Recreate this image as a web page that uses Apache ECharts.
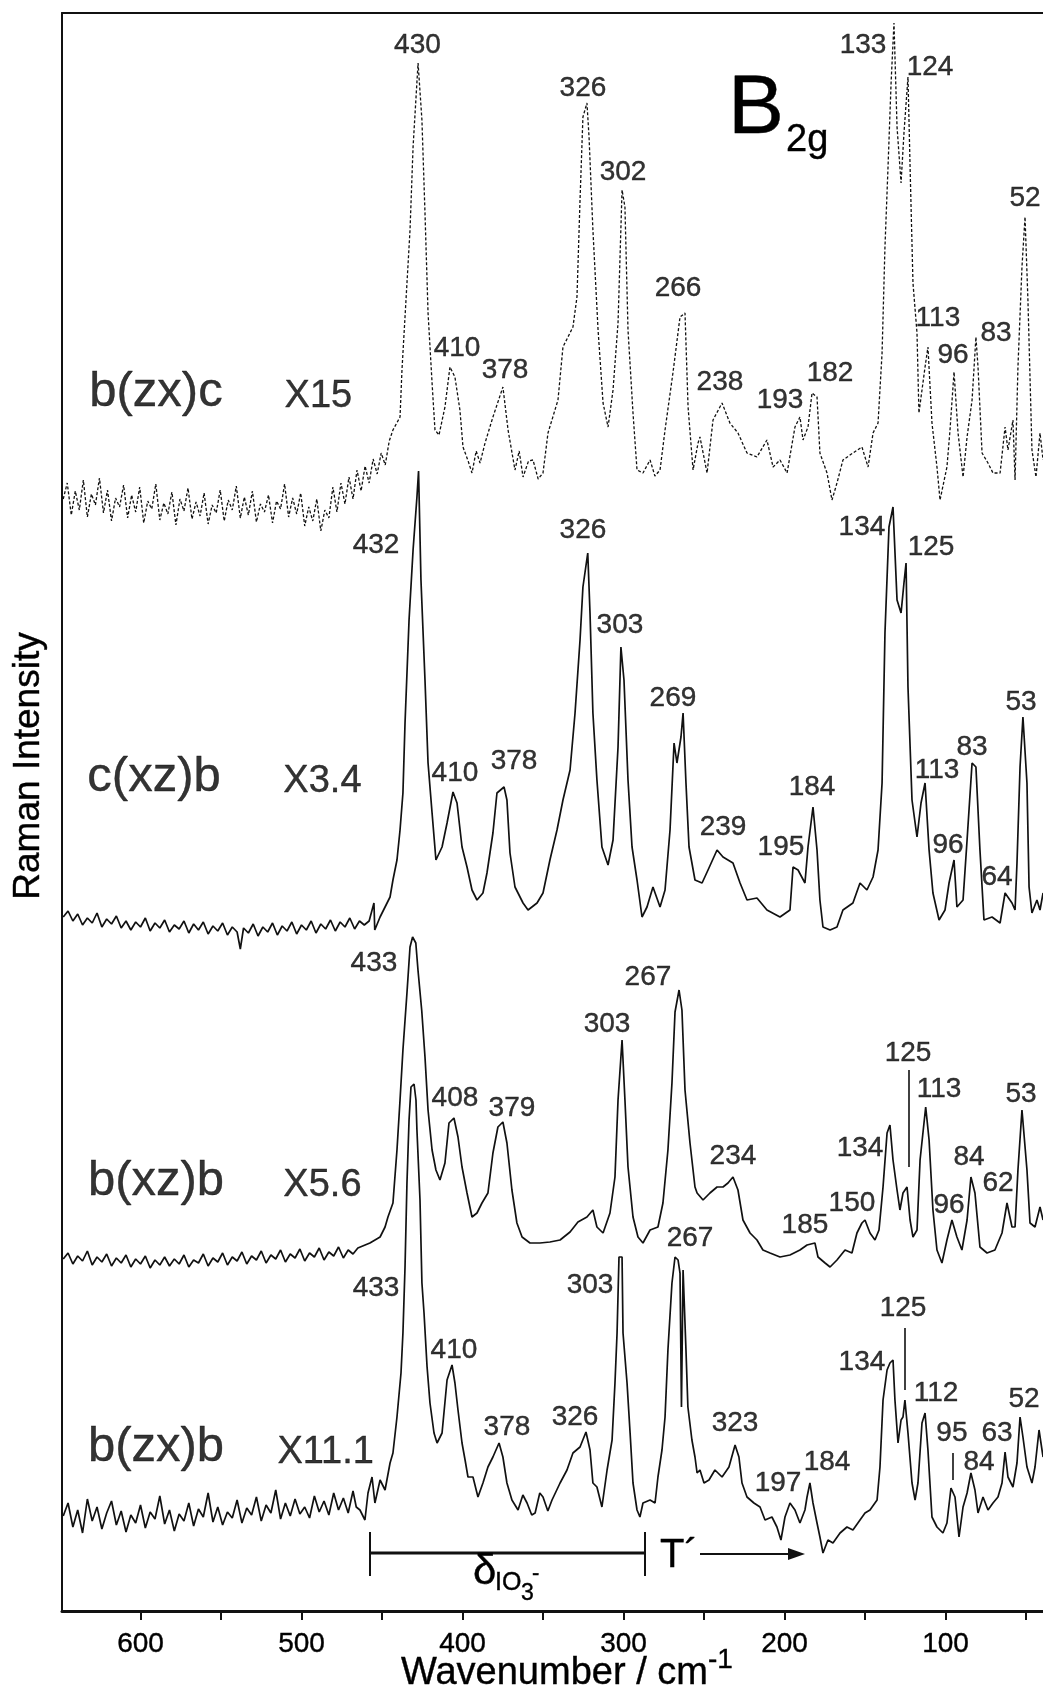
<!DOCTYPE html>
<html>
<head>
<meta charset="utf-8">
<script src="https://cdn.jsdelivr.net/npm/echarts@6.0.0/dist/echarts.min.js"></script>
<style>
html, body { margin: 0; padding: 0; background: #fff; }
#chart { width: 1043px; height: 1691px; }
</style>
</head>
<body>
<div id="chart"></div>
<script>
// spectra: [wavenumber (cm-1), intensity (arb. units, offset traces)]
const bzxc = [[648,1112],[645.5,1128],[643,1096],[640.5,1120],[638,1101],[635.5,1131],[633,1094],[630.5,1117],[628,1106],[625.5,1133],[623,1098],[620.5,1121],[618,1090],[615.5,1113],[613,1104],[610.5,1126],[608,1093],[605.5,1116],[603,1099],[600.5,1124],[598,1088],[595.5,1110],[593,1102],[590.5,1127],[588,1091],[585.5,1108],[583,1097],[580.5,1119],[578,1086],[575.5,1112],[573,1100],[570.5,1123],[568,1092],[565.5,1109],[563,1095],[560.5,1118],[558,1087],[555.5,1106],[553,1098],[550.5,1121],[548,1090],[545.5,1111],[543,1101],[540.5,1125],[538,1093],[535.5,1114],[533,1096],[530.5,1120],[528,1089],[525.5,1107],[523,1099],[520.5,1116],[518,1088],[515.5,1110],[513,1102],[510.5,1127],[508,1094],[505.5,1113],[503,1097],[500.5,1118],[498,1085],[495.5,1104],[493,1090],[490.5,1112],[488,1080],[485.5,1101],[483,1093],[480.5,1124],[478,1099],[475.5,1128],[473,1107],[470.5,1134],[468,1112],[465.5,1141],[463,1120],[460.5,1145],[458,1128],[455.5,1152],[453,1137],[450.5,1158],[448,1146],[445.5,1170],[443.2,1181],
[438.8,1194],[437.6,1241],[432.6,1381],[430.7,1464],[427.6,1548],[425.2,1491],[423.3,1398],[421.4,1298],[418.9,1228],[417.1,1181],[414.6,1176],[410.9,1204],[407.8,1244],[404.7,1234],[401.6,1201],[399.7,1164],[396.5,1150],[394.1,1138],[391.5,1160],[389.1,1148],[386.0,1168],[381.1,1194],[374.9,1224],[371.7,1181],[367.4,1141],[364.8,1160],[362.4,1134],[359.0,1150],[356.2,1151],[353.0,1132],[350.0,1138],[346.9,1178],[340.7,1211],[337.6,1264],[331.4,1284],[328.9,1314],[327.0,1411],[325.2,1494],[322.7,1508],[321.4,1474],[319.0,1381],[315.8,1281],[312.7,1208],[309.6,1184],[306.5,1221],[303.4,1288],[300.9,1421],[299.1,1404],[297.2,1281],[294.1,1198],[291.6,1141],[287.9,1138],[283.5,1151],[280.5,1135],[277.3,1141],[274.2,1181],[269.3,1238],[264.9,1294],[261.8,1298],[259.9,1204],[256.8,1141],[253.7,1168],[252.5,1174],[248.1,1138],[244.4,1191],[238.8,1208],[233.9,1188],[228.9,1178],[223.3,1158],[217.1,1154],[210.9,1171],[207.1,1144],[202.8,1151],[198.4,1138],[193.5,1184],[190.4,1194],[188.5,1171],[185.4,1184],[182.9,1218],[179.8,1214],[178.0,1158],[173.6,1138],[170.5,1111],[167.4,1128],[163.7,1151],[157.5,1158],[151.9,1164],[148.1,1144],[145.0,1178],[141.9,1188],[139.4,1258],[137.6,1364],[135.7,1444],[133.8,1528],[132.0,1588],[130.1,1484],[127.6,1428],[125.8,1478],[123.3,1534],[122.0,1444],[120.2,1328],[117.7,1278],[116.5,1198],[112.7,1244],[110.9,1264],[108.4,1188],[105.3,1144],[103.4,1111],[99.1,1144],[97.2,1181],[94.7,1239],[92.2,1178],[89.1,1134],[86.6,1174],[83.5,1211],[81.1,1274],[79.8,1244],[77.3,1158],[73.6,1148],[70.5,1138],[66.1,1138],[63.0,1184],[61.2,1161],[58.1,1191],[56.8,1131],[55.0,1244],[52.5,1344],[50.6,1394],[48.8,1311],[46.3,1161],[43.8,1134],[41.3,1178],[39.4,1151]];

const cxzb = [[648,694],[645,700],[642,690],[639,697],[636,686],[633,693],[630,688],[627,698],[624,684],[621,692],[618,687],[615,695],[612,683],[609,690],[606,681],[603,689],[600,684],[597,693],[594,680],[591,688],[588,683],[585,691],[582,679],[579,686],[576,682],[573,690],[570,678],[567,687],[564,681],[561,689],[558,677],[555,685],[552,680],[549,688],[546,676],[543,684],[540,679],[538,662],[536,683],[533,678],[530,687],[527,675],[524,684],[521,679],[518,688],[515,676],[512,685],[509,680],[506,689],[503,677],[500,686],[497,681],[494,690],[491,678],[488,687],[485,682],[482,691],[479,680],[476,689],[473,684],[470,693],[467,682],[464,690],[461,686],[458,690],[455.0,708],[454.5,681],[451.2,694],[445.0,714],[443.2,731],[440.7,751],[438.8,781],[437.0,818],[435.7,888],[433.2,991],[430.7,1061],[428.3,1114],[427.3,1140],[425.8,1031],[423.3,931],[421.4,848],[418.9,798],[416.5,751],[412.7,764],[409.6,788],[405.9,819],[403.4,808],[400.3,764],[397.2,744],[394.1,721],[391.0,711],[387.3,718],[384.8,738],[381.1,778],[378.6,818],[374.2,824],[372.4,811],[370.5,758],[367.4,724],[362.4,708],[359.3,701],[353.7,708],[350.0,718],[345.7,751],[341.3,781],[337.6,811],[333.2,841],[330.1,898],[327.0,971],[325.2,1024],[322.2,1058],[320.8,998],[319.0,898],[316.5,831],[313.4,764],[309.6,746],[306.5,771],[303.4,864],[301.6,964],[299.7,931],[297.2,831],[294.7,764],[291.6,731],[288.5,694],[285.4,704],[281.7,724],[277.3,704],[274.2,721],[271.1,781],[268.6,868],[266.8,848],[264.3,874],[263.0,898],[261.2,828],[259.3,764],[255.6,731],[251.2,728],[247.5,741],[241.9,761],[238.2,754],[232.0,748],[227.6,728],[223.3,711],[217.1,713],[210.9,701],[202.8,694],[196.6,701],[194.7,744],[191.6,741],[187.3,728],[185.4,764],[182.3,804],[179.8,761],[178.0,711],[176.1,684],[171.7,681],[167.4,684],[163.7,701],[157.5,708],[153.1,728],[148.8,721],[145.0,734],[141.9,761],[139.4,828],[137.6,978],[135.1,1084],[132.6,1104],[130.1,1011],[127.6,998],[125.8,1028],[124.5,1048],[123.3,924],[120.8,811],[117.7,774],[115.2,808],[112.7,828],[110.2,761],[107.8,718],[104.0,691],[100.3,701],[97.8,728],[94.7,751],[92.9,704],[89.1,711],[86.6,771],[83.5,848],[81.1,844],[78.6,761],[76.1,691],[71.1,694],[66.1,688],[63.0,718],[58.7,708],[56.8,701],[55.6,748],[53.7,844],[51.9,894],[49.4,828],[48.1,724],[46.3,698],[43.2,711],[41.3,701],[39.4,718]];

const bxzb = [[648,352],[645,358],[642,347],[639,355],[636,350],[633,360],[630,346],[627,354],[624,349],[621,357],[618,345],[615,353],[612,348],[609,356],[606,344],[603,352],[600,347],[597,355],[594,343],[591,351],[588,346],[585,354],[582,345],[579,352],[576,347],[573,356],[570,344],[567,351],[564,348],[561,357],[558,345],[555,353],[552,349],[549,358],[546,346],[543,354],[540,350],[537,359],[534,347],[531,355],[528,351],[525,360],[522,348],[519,356],[516,352],[513,361],[510,349],[507,357],[504,353],[501,362],[498,350],[495,358],[492,354],[489,363],[486,351],[483,359],[480,355],[477,364],[474,353],[471,361],[468,357],[465,363],
[457.5,368],[451.2,374],[448.1,384],[446.3,394],[443.2,408],[440.7,461],[438.8,511],[437.0,561],[434.5,618],[432.6,664],[431.0,674],[430.1,675],[429.0,668],[427.6,640],[425.3,600],[423.3,554],[421.4,501],[418.9,461],[416.5,441],[414.0,431],[410.9,448],[408.4,488],[405.3,493],[402.8,474],[400.3,444],[397.2,418],[394.1,394],[391.0,398],[387.9,408],[384.2,418],[381.1,458],[378.0,484],[374.9,489],[372.4,468],[369.3,421],[366.2,388],[363.0,374],[358.1,368],[351.9,368],[345.7,369],[339.4,371],[333.2,379],[328.3,389],[322.7,394],[319.0,401],[316.5,384],[312.7,378],[308.4,398],[305.3,434],[303.4,511],[300.9,571],[299.1,511],[297.2,444],[294.1,394],[291.0,374],[287.9,368],[283.5,381],[278.6,384],[275.5,408],[272.4,461],[269.9,528],[268.0,599],[265.5,621],[263.7,601],[261.8,521],[258.7,468],[255.6,424],[254.3,418],[250.6,411],[246.3,418],[241.9,424],[238.2,424],[235.1,428],[232.0,434],[228.9,421],[225.8,391],[221.4,378],[217.1,371],[213.4,361],[209.0,358],[202.8,354],[196.6,356],[190.4,361],[186.0,366],[181.1,368],[179.2,354],[174.8,348],[171.7,344],[167.4,351],[162.4,361],[158.1,358],[155.0,378],[151.9,388],[150.0,391],[146.9,378],[143.8,371],[141.3,381],[138.8,424],[136.3,478],[134.5,486],[132.6,451],[130.1,421],[128.3,401],[126.4,418],[123.9,424],[122.0,391],[120.2,374],[117.7,381],[115.8,451],[112.3,504],[110.2,471],[107.8,401],[105.3,361],[102.2,348],[99.1,371],[96.0,391],[92.9,374],[89.8,361],[86.6,391],[84.2,434],[81.7,418],[78.6,364],[74.2,358],[69.3,361],[64.9,378],[61.8,408],[58.7,384],[56.8,384],[55.0,441],[52.5,501],[49.4,441],[47.5,388],[44.4,384],[41.3,404],[39.4,391]];

const bzxb = [[648,95],[645,108],[642,84],[639,101],[636,78],[633,112],[630,90],[627,104],[624,82],[621,98],[618,110],[615,86],[612,100],[609,79],[606,96],[603,88],[600,106],[597,83],[594,99],[591,92],[588,115],[585,87],[582,101],[579,80],[576,97],[573,90],[570,108],[567,85],[564,102],[561,94],[558,118],[555,89],[552,104],[549,86],[546,99],[543,93],[540,111],[537,88],[534,103],[531,96],[528,114],[525,90],[522,106],[519,98],[516,121],[513,92],[510,108],[507,95],[504,112],[501,97],[498,104],[495,93],[492,115],[489,99],[486,110],[483,96],[480,118],[477,101],[474,113],[471,98],[468,120],[466,104],
[463.7,101],[460.6,91],[458.7,118],[456.2,134],[454.4,108],[451.2,131],[448.1,121],[445.0,148],[443.2,158],[440.7,194],[438.2,238],[437.0,278],[435.7,344],[434.5,428],[433.2,491],[432.0,524],[430.1,527],[428.9,511],[428.3,481],[426.4,411],[425.2,328],[423.9,298],[422.0,244],[420.2,208],[417.7,178],[415.8,168],[412.7,178],[409.6,231],[406.5,246],[404.7,228],[402.8,201],[400.3,168],[398.4,151],[396.6,134],[393.5,134],[390.4,114],[387.3,128],[384.2,144],[381.1,154],[377.3,168],[374.9,154],[372.4,128],[369.3,111],[365.5,101],[362.5,116],[359.9,108],[357.0,96],[354.9,98],[352.0,118],[350.0,114],[347.0,100],[344.4,111],[339.4,128],[335.1,141],[331.4,158],[327.0,164],[323.3,179],[320.8,161],[319.0,128],[316.5,124],[313.4,104],[310.2,141],[307.1,171],[305.3,228],[304.0,278],[302.8,354],[300.9,354],[300.3,278],[297.8,228],[295.9,178],[294.1,128],[291.6,101],[289.8,94],[287.9,108],[283.5,111],[280.4,108],[278.6,134],[276.1,161],[274.2,194],[272.4,261],[269.9,328],[268.0,354],[266.1,351],[264.9,338],[264.0,204],[263.0,341],[261.2,261],[260.0,204],[257.5,171],[255.6,154],[254.3,138],[252.5,141],[250.0,128],[246.9,131],[243.2,141],[238.8,134],[234.5,144],[230.7,166],[228.3,154],[226.4,128],[223.3,114],[219.0,108],[215.2,104],[212.1,91],[207.8,94],[204.7,84],[202.2,71],[199.7,94],[196.6,108],[193.5,101],[190.4,88],[187.3,101],[186.0,114],[184.2,128],[182.3,108],[179.8,88],[178.0,74],[176.1,58],[173.0,71],[169.9,68],[165.5,78],[161.2,84],[157.5,81],[153.1,91],[150.0,98],[146.9,101],[142.5,111],[140.7,144],[138.8,211],[136.3,241],[134.5,248],[132.6,251],[131.4,211],[129.5,168],[127.6,191],[126.4,194],[125.2,211],[123.3,178],[120.8,128],[118.9,111],[117.1,128],[114.6,188],[112.7,198],[110.9,161],[108.4,94],[105.3,84],[101.6,78],[99.1,88],[96.6,123],[94.1,114],[91.6,74],[89.1,104],[86.6,118],[84.2,138],[81.7,121],[79.8,98],[76.7,114],[73.6,101],[70.5,108],[67.4,114],[64.9,128],[63.0,159],[61.2,134],[58.1,124],[55.6,148],[53.7,194],[51.9,174],[49.4,144],[46.3,128],[44.4,144],[41.9,181],[39.4,154]];

// peak labels: [wavenumber, intensity, text]
const peaks1 = [[428.0,1566,'430'],[325.2,1523,'326'],[300.3,1439,'302'],[266.1,1323,'266'],[403.4,1263,'410'],[373.6,1241,'378'],[240.1,1229,'238'],[202.8,1211,'193'],[171.7,1238,'182'],[151.2,1566,'133'],[109.6,1544,'124'],[104.7,1293,'113'],[95.3,1256,'96'],[68.6,1278,'83'],[50.6,1413,'52']];
const peaks2 = [[453.7,1066,'432'],[325.2,1081,'326'],[302.2,986,'303'],[269.3,913,'269'],[404.7,838,'410'],[368.0,850,'378'],[151.9,1084,'134'],[109.0,1064,'125'],[238.2,784,'239'],[202.2,764,'195'],[182.9,824,'184'],[105.3,841,'113'],[83.5,864,'83'],[98.4,766,'96'],[68.0,734,'64'],[53.1,909,'53']];
const peaks3 = [[455.0,648,'433'],[404.7,513,'408'],[369.3,503,'379'],[310.2,587,'303'],[284.8,634,'267'],[232.0,455,'234'],[187.3,386,'185'],[158.1,408,'150'],[153.1,463,'134'],[123.3,558,'125'],[104.0,522,'113'],[97.8,406,'96'],[85.4,454,'84'],[67.4,428,'62'],[53.1,517,'53']];
const peaks4 = [[453.7,323,'433'],[405.3,261,'410'],[372.4,184,'378'],[330.1,194,'326'],[320.8,326,'303'],[258.7,373,'267'],[230.7,188,'323'],[204.0,128,'197'],[173.6,149,'184'],[151.9,249,'134'],[126.4,303,'125'],[105.9,218,'112'],[96.0,178,'95'],[79.2,149,'84'],[68.0,178,'63'],[51.2,212,'52']];

const geometries = [[590.4,1219,'b(zx)c'],[591.6,834,'c(xz)b'],[590.4,430,'b(xz)b'],[590.4,164,'b(zx)b']];
const factors = [[489.5,1214,'X15'],[487.0,829,'X3.4'],[487.0,425,'X5.6'],[485.0,158,'X11.1']];

// short leader lines under some labels: [wavenumber, from, to]
const leaders3 = [[123.1,541,444]];
const leaders4 = [[125.6,283,221],[95.5,158,131]];

const tickVals = [50,100,150,200,250,300,350,400,450,500,550,600];
const labelVals = [100,200,300,400,500,600];

const FONT = '"Liberation Sans", Arial, Helvetica, sans-serif';
const INK = '#000';

const chart = echarts.init(document.getElementById('chart'), null, { renderer: 'canvas' });

function trace(data, dashed, leaders) {
    let s = {
        type: 'line',
        data: data,
        symbol: 'none',
        silent: true,
        lineStyle: { color: '#111', width: dashed ? 1.3 : 1.7, type: dashed ? [3, 2] : 'solid' }
    };
    if (leaders) {
        s.markLine = {
            silent: true,
            symbol: 'none',
            label: { show: false },
            lineStyle: { color: '#111', width: 1.6, type: 'solid' },
            data: leaders.map(l => [{ coord: [l[0], l[1]] }, { coord: [l[0], l[2]] }])
        };
    }
    return s;
}

function texts(list, size) {
    return {
        type: 'scatter',
        data: list,
        symbolSize: 0,
        silent: true,
        label: {
            show: true,
            position: 'inside',
            formatter: p => p.data[2],
            fontSize: size,
            fontFamily: FONT,
            color: INK,
            textBorderColor: INK,
            textBorderWidth: 0.4
        }
    };
}

function txt(x, y, text, size, extra) {
    return Object.assign({
        type: 'text',
        x: x,
        y: y,
        silent: true,
        style: { text: text, fontSize: size, fontFamily: FONT, fill: INK, stroke: INK, lineWidth: 0.4, align: 'left', verticalAlign: 'middle' }
    }, extra || {});
}

const option = {
    animation: false,
    backgroundColor: '#fff',
    grid: { left: 62, right: 0, top: 13, bottom: 80 },
    xAxis: [{
        type: 'value',
        inverse: true,
        min: 39.44,
        max: 648.76,
        position: 'bottom',
        axisLine: { onZero: false, lineStyle: { color: '#111', width: 3 } },
        axisTick: { show: true, inside: false, length: 9, lineStyle: { color: '#111', width: 2 }, customValues: tickVals },
        axisLabel: { customValues: labelVals, fontSize: 28, fontFamily: FONT, color: INK, textBorderColor: INK, textBorderWidth: 0.4, margin: 19 },
        splitLine: { show: false }
    }, {
        type: 'value',
        inverse: true,
        min: 39.44,
        max: 648.76,
        position: 'top',
        axisLine: { onZero: false, lineStyle: { color: '#111', width: 2 } },
        axisTick: { show: false },
        axisLabel: { show: false },
        splitLine: { show: false }
    }],
    yAxis: {
        type: 'value',
        min: 0,
        max: 1598,
        axisLine: { show: true, onZero: false, lineStyle: { color: '#111', width: 2 } },
        axisTick: { show: false },
        axisLabel: { show: false },
        splitLine: { show: false }
    },
    series: [
        trace(bzxc, true),
        trace(cxzb, false),
        trace(bxzb, false, leaders3),
        trace(bzxb, false, leaders4),
        texts(peaks1, 28),
        texts(peaks2, 28),
        texts(peaks3, 28),
        texts(peaks4, 28),
        texts(geometries, 49),
        texts(factors, 38)
    ],
    graphic: [
        // B2g
        txt(728, 110, 'B', 84),
        txt(786, 141, '2g', 38),
        // delta IO3- bracket
        { type: 'line', silent: true, shape: { x1: 370, y1: 1553, x2: 645, y2: 1553 }, style: { stroke: '#111', lineWidth: 3 } },
        { type: 'line', silent: true, shape: { x1: 370, y1: 1532, x2: 370, y2: 1576 }, style: { stroke: '#111', lineWidth: 2 } },
        { type: 'line', silent: true, shape: { x1: 645, y1: 1532, x2: 645, y2: 1576 }, style: { stroke: '#111', lineWidth: 2 } },
        txt(473, 1572, 'δ', 42),
        txt(495, 1583, 'IO', 25),
        txt(521, 1594, '3', 23),
        txt(532, 1574, '-', 22),
        // T' arrow
        txt(660, 1556, 'T´', 40),
        { type: 'line', silent: true, shape: { x1: 700, y1: 1554, x2: 795, y2: 1554 }, style: { stroke: '#111', lineWidth: 2 } },
        { type: 'polygon', silent: true, shape: { points: [[805, 1554], [788, 1548], [788, 1560]] }, style: { fill: '#111' } },
        // axis titles
        txt(401, 1674, 'Wavenumber / cm', 38),
        txt(708, 1660, '-1', 28),
        txt(29, 766, 'Raman Intensity', 37, { rotation: Math.PI / 2 })
    ]
};
option.graphic[option.graphic.length - 1].style.align = 'center';

chart.setOption(option);
</script>
</body>
</html>
